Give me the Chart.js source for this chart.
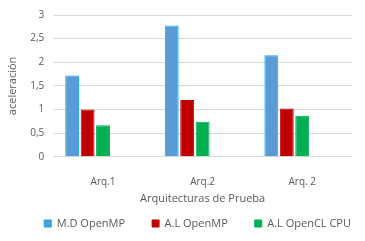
<!DOCTYPE html>
<html>
<head>
<meta charset="utf-8">
<script src="https://cdn.jsdelivr.net/npm/chart.js@4.4.1/dist/chart.umd.min.js"></script>
<style>
  html, body { margin: 0; padding: 0; background: #fff; }
  #wrap { width: 365px; height: 241px; }
</style>
</head>
<body>
<div id="wrap"><canvas id="chart"></canvas></div>
<script>
// datos
const categorias = ['Arq.1', 'Arq.2', 'Arq. 2'];
const mdOpenMP = [1.72, 2.78, 2.15];
const alOpenMP = [1.0, 1.2, 1.02];
const alOpenCLCPU = [0.67, 0.74, 0.87];
const series = ['M.D OpenMP', 'A.L OpenMP', 'A.L OpenCL CPU'];
// el original deja dos huecos vacios a la derecha de cada grupo
const vacio = [null, null, null];

const gris = '#595959';
const fuente = "'Open Sans', 'Liberation Sans', sans-serif";

// la leyenda del original queda un poco mas a la derecha
const moverLeyenda = {
    id: 'moverLeyenda',
    afterLayout(c) { c.legend.left += 6; c.legend.right += 6; }
};

const ctx = document.getElementById('chart').getContext('2d');
const chart = new Chart(ctx, {
    type: 'bar',
    data: {
        labels: categorias,
        datasets: [
            { label: series[0], data: mdOpenMP, backgroundColor: '#5B9BD5', borderColor: '#00B0F0', borderWidth: 1 },
            { label: series[1], data: alOpenMP, backgroundColor: '#C00000', borderColor: '#C00000', borderWidth: 1 },
            { label: series[2], data: alOpenCLCPU, backgroundColor: '#00B050', borderColor: '#00B050', borderWidth: 1 },
            { label: '', data: vacio },
            { label: '', data: vacio }
        ]
    },
    plugins: [moverLeyenda],
    options: {
        responsive: true,
        maintainAspectRatio: false,
        animation: false,
        devicePixelRatio: 1,
        layout: { padding: { top: 13, right: 13, left: 4, bottom: 2 } },
        datasets: { bar: { categoryPercentage: 0.775, barPercentage: 0.9 } },
        plugins: {
            tooltip: { enabled: false },
            legend: {
                position: 'bottom',
                align: 'end',
                labels: {
                    boxWidth: 7, boxHeight: 7, padding: 7,
                    color: gris, font: { family: fuente, size: 11 },
                    generateLabels: c => {
                        // espacios extra para separar los elementos como en el original
                        const items = Chart.defaults.plugins.legend.labels.generateLabels(c)
                            .filter(it => it.text !== '');
                        items.forEach((it, i) => { if (i < 2) it.text += '       '; });
                        return items;
                    }
                }
            }
        },
        scales: {
            x: {
                grid: { display: false },
                border: { display: false },
                ticks: { color: gris, padding: 11, font: { family: fuente, size: 10 } },
                title: { display: true, text: 'Arquitecturas de Prueba', color: gris, padding: { top: 4, bottom: 6 }, font: { family: fuente, size: 11 } },
                afterFit: scale => { scale.height -= 11; }
            },
            y: {
                min: 0, max: 3,
                ticks: {
                    stepSize: 0.5, color: gris, padding: 9,
                    font: { family: fuente, size: 10 },
                    callback: v => String(v).replace('.', ',')
                },
                grid: { color: '#D9D9D9', drawTicks: false },
                border: { display: false },
                title: { display: true, text: 'aceleración', color: gris, padding: 2, font: { family: fuente, size: 11 } }
            }
        }
    }
});
</script>
</body>
</html>
